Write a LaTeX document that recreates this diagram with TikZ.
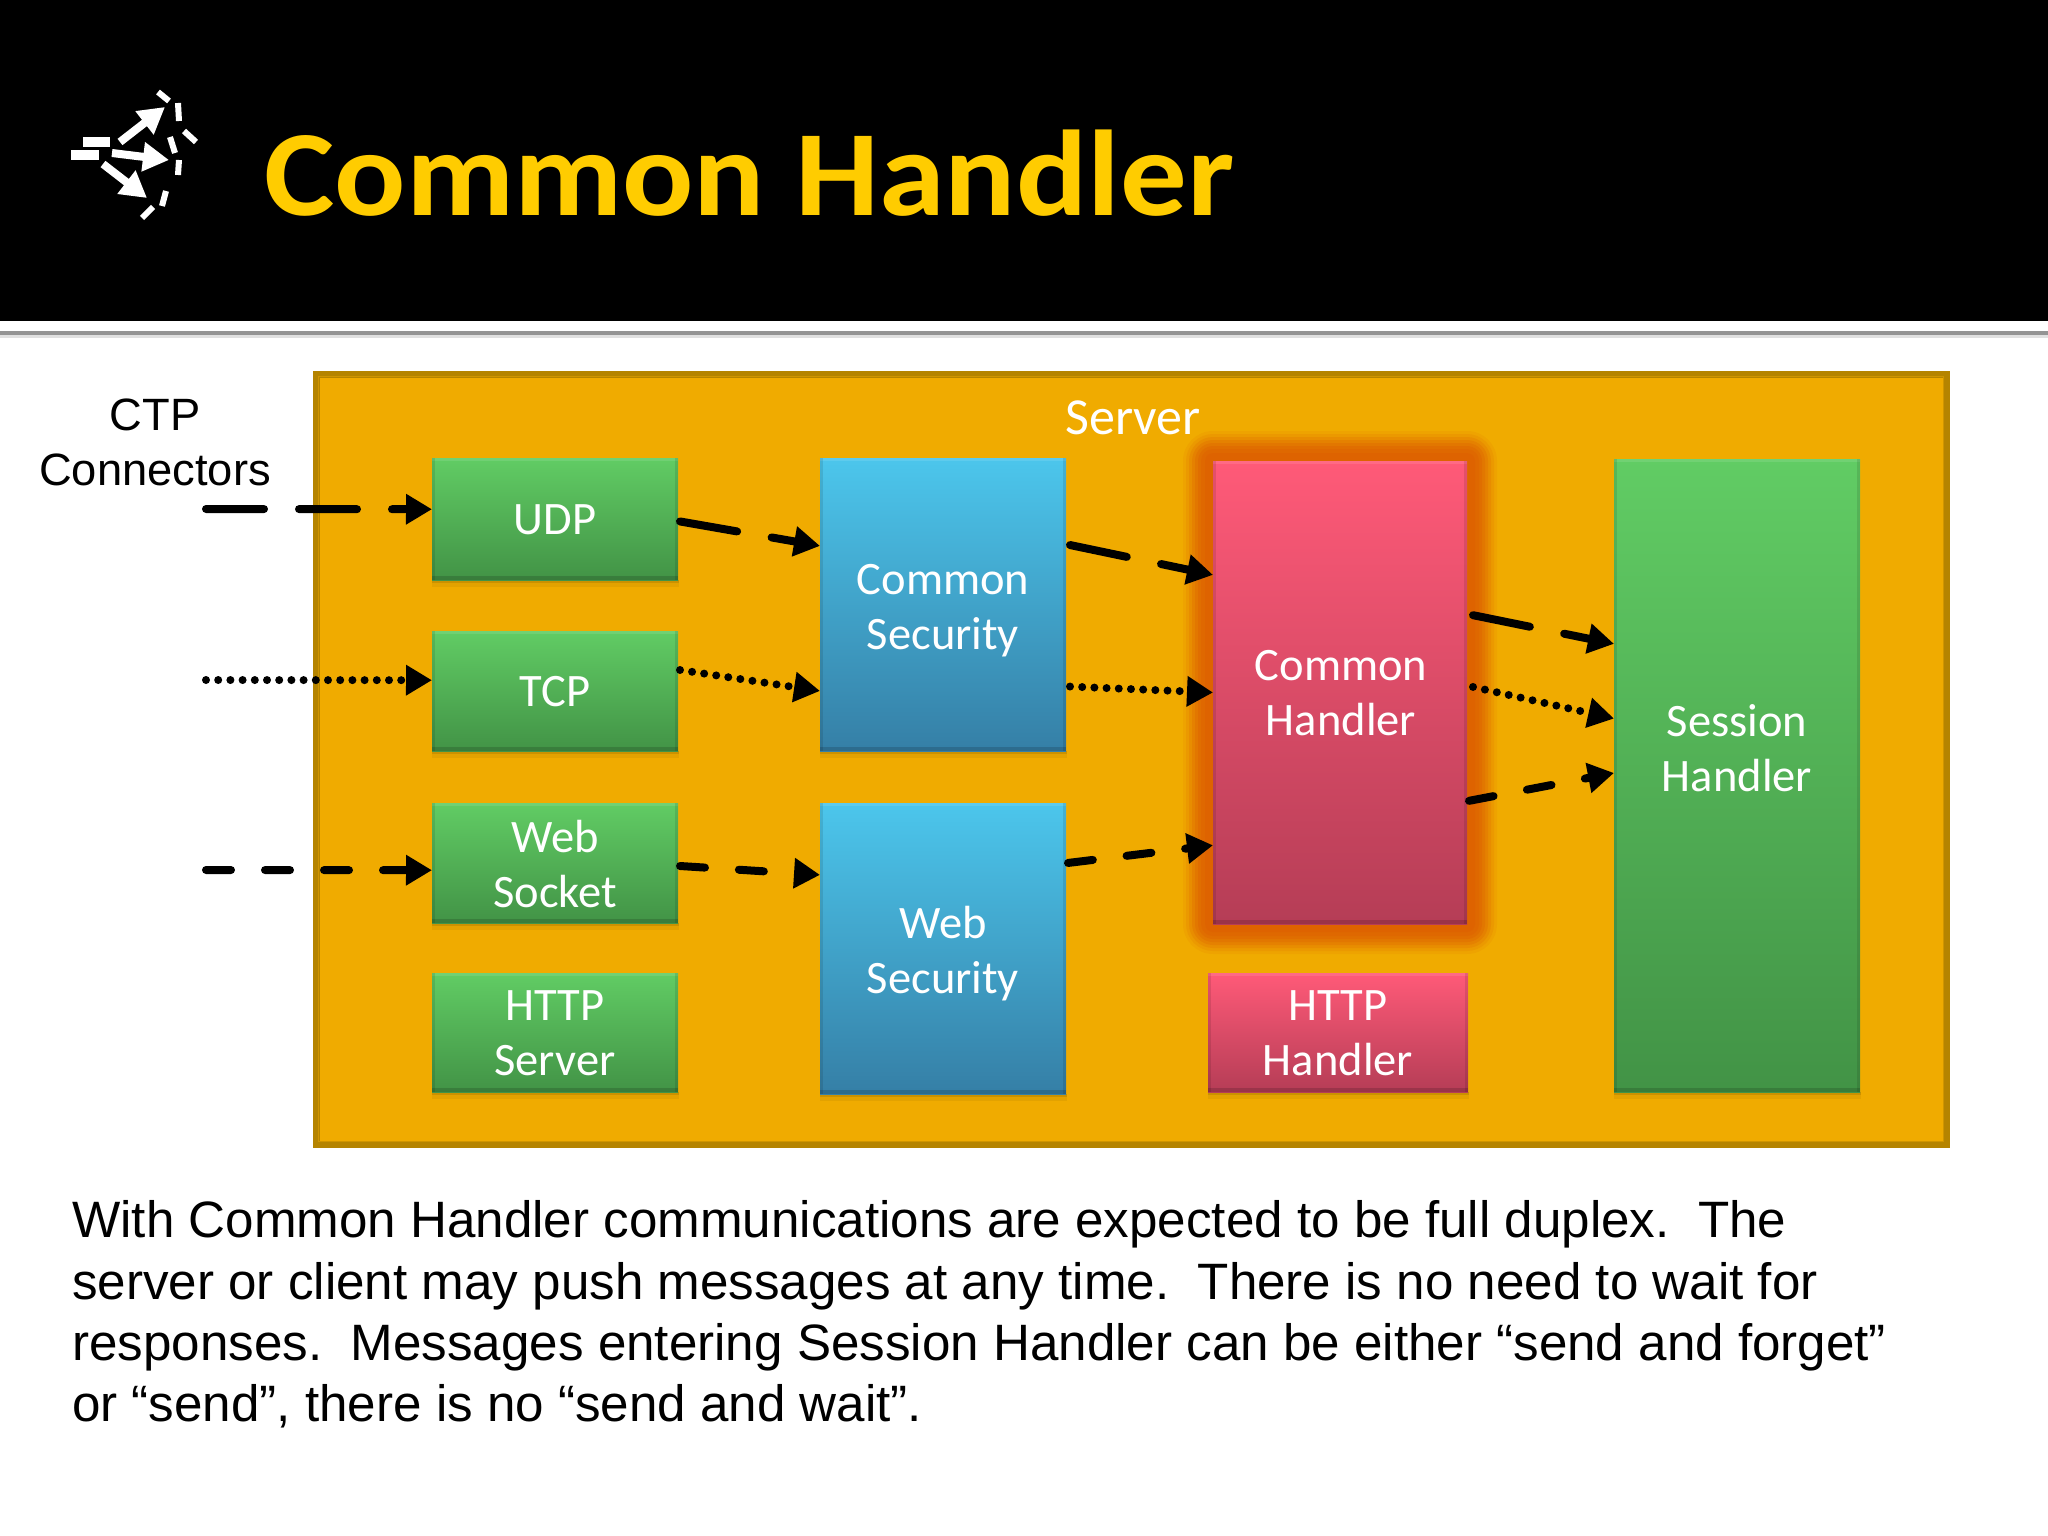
\documentclass[tikz,border=0pt]{standalone}
\usepackage{fontspec}
\usetikzlibrary{calc,arrows.meta}
\setmainfont{Liberation Sans}
\newfontfamily\boxfont{Carlito}
\newfontfamily\titlefont[FakeStretch=1.09]{Carlito}
\definecolor{goldtitle}{HTML}{FFCC00}
\definecolor{serverfill}{HTML}{F0AB00}
\definecolor{serveredge}{HTML}{B58400}
\definecolor{glowcol}{HTML}{DE6000}
\definecolor{greentop}{HTML}{61CC64}
\definecolor{greenbot}{HTML}{429346}
\definecolor{bluetop}{HTML}{4CC6EC}
\definecolor{bluebot}{HTML}{357FA6}
\definecolor{pinktop}{HTML}{FF5A78}
\definecolor{pinkbot}{HTML}{B53D56}
\tikzset{
  x=1pt,y=-1pt,
  block/.style={rectangle,inner sep=0pt,outer sep=0pt,
    path picture={
      \fill[black,opacity=.15] (path picture bounding box.south west) rectangle ([yshift=4pt]path picture bounding box.south east);
      \fill[white,opacity=.10] (path picture bounding box.north west) rectangle ([yshift=-3pt]path picture bounding box.north east);
      \fill[black,opacity=.10] (path picture bounding box.north west) rectangle ([xshift=3pt]path picture bounding box.south west);
      \fill[black,opacity=.10] (path picture bounding box.north east) rectangle ([xshift=-3pt]path picture bounding box.south east);
    }},
  blocktext/.style={inner sep=0pt,align=center,text=white,font=\boxfont\fontsize{46.5}{55}\selectfont},
  greenblock/.style={block,top color=greentop,bottom color=greenbot},
  blueblock/.style={block,top color=bluetop,bottom color=bluebot},
  pinkblock/.style={block,top color=pinktop,bottom color=pinkbot},
  flow/.style={line width=8pt,black,line cap=round,-{Triangle[length=26pt,width=29pt]}},
  longdash/.style={flow,dash pattern=on 58pt off 35pt},
  dotline/.style={flow,dash pattern=on 0pt off 12.2pt},
  shortdash/.style={flow,dash pattern=on 25pt off 34pt},
  logodash/.style={line width=6pt,white},
  logoarrow/.style={line width=8pt,white,-{Triangle[length=26pt,width=28pt]}},
}
\begin{document}
\begin{tikzpicture}
\useasboundingbox (0,0) rectangle (2048,1536);
\fill[white] (0,0) rectangle (2048,1536);
% header
\fill[black] (0,0) rectangle (2048,321);
\fill[black!12] (0,333) rectangle (2048,338);
\fill[black!42] (0,331) rectangle (2048,334.5);
% logo
\draw[logodash,line width=10pt] (83,142) -- (110,142);
\draw[logodash,line width=10pt] (71,155) -- (99,155);
\draw[logodash] (158,92) -- (169,101);
\draw[logodash] (178,103) -- (179,121);
\draw[logodash] (184,131) -- (196,142);
\draw[logodash] (170,137) -- (175,153);
\draw[logodash] (179,160) -- (178,175);
\draw[logodash] (166,191) -- (162,206);
\draw[logodash] (153,207) -- (142,218);
\draw[logoarrow] (120,142) -- (165,107);
\draw[logoarrow] (112,153) -- (169,160);
\draw[logoarrow] (103,164) -- (147,198);
% title
\node[anchor=base west,inner sep=0pt,text=goldtitle,font=\titlefont\bfseries\fontsize{122}{130}\selectfont] (title) at (264,215) {Common Handler};
% server
\node[rectangle,inner sep=0pt,draw=serveredge,line width=7pt,fill=serverfill,minimum width=1630pt,minimum height=770pt] (server) at (1131,759) {};
\draw[serveredge!55!serverfill,line width=1.5pt] ($(server.north west)+(6,6)$) rectangle ($(server.south east)+(-6,-6)$);
\node[text=white,inner sep=0pt,font=\boxfont\fontsize{52}{55}\selectfont] (servertitle) at (1133,418) {Server};
% glow
\foreach \g/\o in {30/.1,27/.15,24/.2,21/.25,18/.3,15/.35,12/.4,8/.5}{
  \fill[glowcol,opacity=\o,rounded corners=\g pt] (1213-\g,461-\g) rectangle (1467+\g,924+\g);
}
% soft shadows
\foreach \a/\b/\c in {432/580/678,432/751/678,432/923/678,432/1092/678,820/751/1066,820/1094/1066,1208/1092/1468,1614/1092/1860}{
  \fill[black,opacity=.05] (\a,\b) rectangle (\c+1,\b+7);
  \fill[black,opacity=.10] (\a,\b) rectangle (\c+1,\b+3);
}
% blocks
\node[greenblock,minimum width=246pt,minimum height=122pt,label={[blocktext,yshift=-1pt]center:UDP}] (udp) at (555,519) {};
\node[greenblock,minimum width=246pt,minimum height=120pt,label={[blocktext,yshift=-1pt]center:TCP}] (tcp) at (555,691) {};
\node[greenblock,minimum width=246pt,minimum height=120pt,label={[blocktext,yshift=-1pt]center:Web\\Socket}] (ws) at (555,863) {};
\node[greenblock,minimum width=246pt,minimum height=119pt,label={[blocktext,yshift=-1pt]center:HTTP\\Server}] (hs) at (555,1032.5) {};
\node[blueblock,minimum width=246pt,minimum height=293pt,label={[blocktext,yshift=-6.5pt]center:Common\\Security}] (cs) at (943,604.5) {};
\node[blueblock,minimum width=246pt,minimum height=291pt,label={[blocktext,yshift=-5pt]center:Web\\Security}] (wsec) at (943,948.5) {};
\node[pinkblock,minimum width=254pt,minimum height=463pt,label={[blocktext,yshift=-1pt,xshift=1pt]center:Common\\Handler}] (ch) at (1340,692.5) {};
\node[pinkblock,minimum width=260pt,minimum height=119pt,label={[blocktext,yshift=-1pt]center:HTTP\\Handler}] (hh) at (1338,1032.5) {};
\node[greenblock,minimum width=246pt,minimum height=633pt,label={[blocktext,yshift=27pt]center:Session\\Handler}] (sh) at (1737,775.5) {};
% connector labels and text
\node[inner sep=0pt,align=center,font=\fontsize{45.3}{55}\selectfont] (ctp) at (155,442) {CTP\\Connectors};
\coordinate (in1) at (206,509);
\coordinate (in2) at (206,680);
\coordinate (in3) at (206,870);
% connectors
\draw[longdash] (in1) -- ($(udp.north west)!.42!(udp.south west)$);
\draw[dotline] (in2) -- ($(tcp.north west)!.41!(tcp.south west)$);
\draw[shortdash] (in3) -- ($(ws.north west)!.56!(ws.south west)$);
\draw[longdash] ($(udp.north east)!.52!(udp.south east)+(2,0)$) -- ($(cs.north west)!.30!(cs.south west)$);
\draw[dotline] ($(tcp.north east)!.325!(tcp.south east)+(2,0)$) -- ($(cs.north west)!.795!(cs.south west)$);
\draw[shortdash] ($(ws.north east)!.525!(ws.south east)+(2,0)$) -- ($(wsec.north west)!.247!(wsec.south west)$);
\draw[longdash] ($(cs.north east)!.297!(cs.south east)+(4,0)$) -- ($(ch.north west)!.246!(ch.south west)$);
\draw[dotline] ($(cs.north east)!.78!(cs.south east)+(4,0)$) -- ($(ch.north west)!.5!(ch.south west)$);
\draw[shortdash] ($(wsec.north east)!.206!(wsec.south east)+(2,0)$) -- ($(ch.north west)!.83!(ch.south west)$);
\draw[longdash] ($(ch.north east)!.333!(ch.south east)+(6,0)$) -- ($(sh.north west)!.292!(sh.south west)$);
\draw[dotline] ($(ch.north east)!.488!(ch.south east)+(6,0)$) -- ($(sh.north west)!.41!(sh.south west)$);
\draw[shortdash] ($(ch.north east)!.734!(ch.south east)+(2,0)$) -- ($(sh.north west)!.496!(sh.south west)$);
% body
\node[anchor=north west,inner sep=0pt,align=left,font=\fontsize{51.15}{61.4}\selectfont] (body) at (72,1200.5) {With Common Handler communications are expected to be full duplex.\ \ The\\server or client may push messages at any time.\ \ There is no need to wait for\\responses.\ \ Messages entering Session Handler can be either “send and forget”\\or “send”, there is no “send and wait”.};
\end{tikzpicture}
\end{document}
